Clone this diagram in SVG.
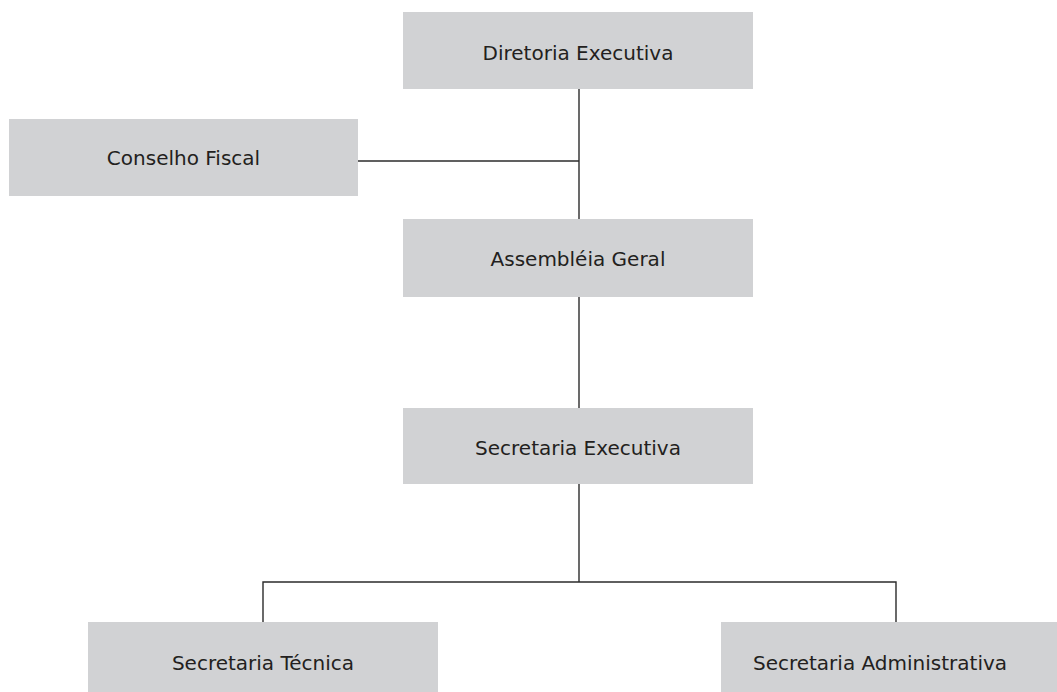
<svg xmlns="http://www.w3.org/2000/svg" width="1057" height="692" viewBox="0 0 1057 692">
<style>
.box{fill:#d1d2d4}
.lbl{font-family:"DejaVu Sans",sans-serif;font-size:20px;fill:#231f20;text-anchor:middle}
.con{stroke:#2b2b2b;stroke-width:1.4;fill:none}
</style>
<rect width="1057" height="692" fill="#ffffff"/>
<g id="connectors">
<line class="con" x1="579" y1="89" x2="579" y2="219"/>
<line class="con" x1="358" y1="161" x2="579" y2="161"/>
<line class="con" x1="579" y1="297" x2="579" y2="408"/>
<line class="con" x1="579" y1="484" x2="579" y2="582"/>
<polyline class="con" points="263,622 263,582 896,582 896,622"/>
</g>
<g id="diretoria">
<rect class="box" x="403" y="12" width="350" height="77"/>
<text class="lbl" x="578" y="60">Diretoria Executiva</text>
</g>
<g id="conselho">
<rect class="box" x="9" y="119" width="349" height="77"/>
<text class="lbl" x="183.5" y="165">Conselho Fiscal</text>
</g>
<g id="assembleia">
<rect class="box" x="403" y="219" width="350" height="78"/>
<text class="lbl" x="578" y="266">Assembléia Geral</text>
</g>
<g id="secexec">
<rect class="box" x="403" y="408" width="350" height="76"/>
<text class="lbl" x="578" y="455">Secretaria Executiva</text>
</g>
<g id="sectec">
<rect class="box" x="88" y="622" width="350" height="70"/>
<text class="lbl" x="263" y="670">Secretaria Técnica</text>
</g>
<g id="secadm">
<rect class="box" x="721" y="622" width="336" height="70"/>
<text class="lbl" x="880" y="670">Secretaria Administrativa</text>
</g>
</svg>
